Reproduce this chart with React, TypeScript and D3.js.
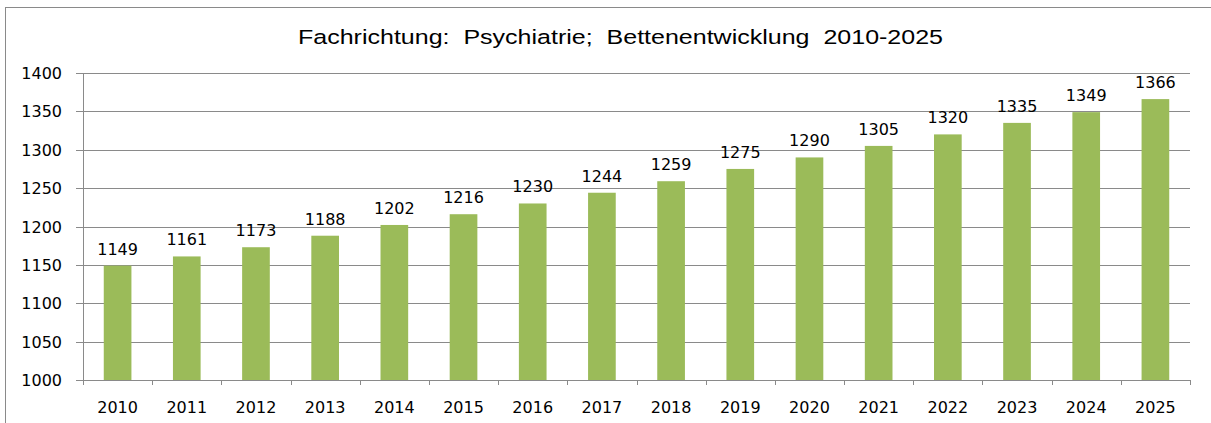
import React from 'react'
import * as d3 from 'd3'

const years = ['2010', '2011', '2012', '2013', '2014', '2015', '2016', '2017', '2018', '2019', '2020', '2021', '2022', '2023', '2024', '2025']
const beds = [1149, 1161, 1173, 1188, 1202, 1216, 1230, 1244, 1259, 1275, 1290, 1305, 1320, 1335, 1349, 1366]
const yTicks = [1000, 1050, 1100, 1150, 1200, 1250, 1300, 1350, 1400]
const title = 'Fachrichtung:  Psychiatrie;  Bettenentwicklung  2010-2025'

const W = 1211
const H = 423
const left = 83
const right = 1190
const top = 73
const bottom = 380

export default function App() {
  const x = d3.scaleBand().domain(years).range([left, right]).paddingInner(0.6).paddingOuter(0.3)
  const step = x.step()
  const y = d3.scaleLinear().domain([1000, 1400]).range([bottom, top])
  const font = '"DejaVu Sans", sans-serif'
  const grid = '#8a8a8a'
  const fs = 16

  return (
    <svg width={W} height={H} style={{ position: 'absolute', left: 0, top: 0, background: '#fff' }}>
      <rect x={5.5} y={7.5} width={W + 10} height={H + 10} fill="none" stroke="#8a8a8a" strokeWidth={1} />
      <text
        x={298}
        y={44}
        textLength={645}
        lengthAdjust="spacingAndGlyphs"
        fontFamily='"Liberation Sans", Arial, sans-serif'
        fontSize={20.5}
        fill="#000"
        style={{ whiteSpace: 'pre' }}
      >
        {title}
      </text>
      {yTicks.map(t => (
        <g key={t}>
          <line x1={left - 7} x2={right} y1={Math.round(y(t)) + 0.5} y2={Math.round(y(t)) + 0.5} stroke={grid} />
          <text x={62} y={y(t) + 6} textAnchor="end" fontFamily={font} fontSize={fs} fill="#000">
            {t}
          </text>
        </g>
      ))}
      <line x1={left + 0.5} x2={left + 0.5} y1={top} y2={bottom} stroke={grid} />
      {years.map((yr, i) => {
        const xt = Math.round(left + step * (i + 1)) + 0.5
        return <line key={'t' + yr} x1={xt} x2={xt} y1={bottom} y2={bottom + 5} stroke={grid} />
      })}
      <line x1={left + 0.5} x2={left + 0.5} y1={bottom} y2={bottom + 5} stroke={grid} />
      {years.map((yr, i) => (
        <g key={yr}>
          <rect x={x(yr)} y={y(beds[i])} width={x.bandwidth()} height={bottom - y(beds[i])} fill="#9bbb59" />
          <text x={(x(yr) as number) + x.bandwidth() / 2} y={y(beds[i]) - 11} textAnchor="middle" fontFamily={font} fontSize={fs} fill="#000">
            {beds[i]}
          </text>
          <text x={(x(yr) as number) + x.bandwidth() / 2} y={413} textAnchor="middle" fontFamily={font} fontSize={fs} fill="#000">
            {yr}
          </text>
        </g>
      ))}
    </svg>
  )
}
